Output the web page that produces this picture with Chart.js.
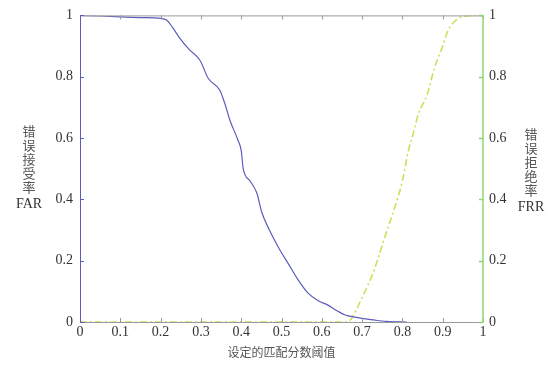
<!DOCTYPE html>
<html>
<head>
<meta charset="utf-8">
<script src="https://cdn.jsdelivr.net/npm/chart.js@4"></script>
<style>
  body { margin: 0; background: #fff; }
  #wrap { position: relative; width: 555px; height: 366px; }
  .ytitle { position: absolute; font-family: "Noto Sans CJK SC", sans-serif; font-size: 13px; line-height: 14px; color: #555; text-align: center; width: 40px; }
  .ytitle b { font-family: "Liberation Serif", serif; font-size: 14px; font-weight: normal; color: #333; display: block; margin-top: 3px; }
</style>
</head>
<body>
<div id="wrap">
  <canvas id="myChart" width="555" height="366"></canvas>
  <div class="ytitle" style="left:9px; top:124px;">错<br>误<br>接<br>受<br>率<b>FAR</b></div>
  <div class="ytitle" style="left:511px; top:127px;">错<br>误<br>拒<br>绝<br>率<b>FRR</b></div>
</div>
<script>
// threshold values and the two error rates
const farX = [0, 0.05, 0.1, 0.15, 0.2, 0.215, 0.23, 0.248, 0.27, 0.298, 0.318, 0.347, 0.36, 0.372, 0.392, 0.4, 0.405,
    0.422, 0.439, 0.451, 0.47, 0.496, 0.516, 0.54, 0.566, 0.59, 0.615, 0.64, 0.658, 0.682, 0.7, 0.732, 0.76, 0.811];
const farY = [1, 0.998, 0.995, 0.993, 0.99, 0.985, 0.96, 0.925, 0.89, 0.853, 0.795, 0.756, 0.71, 0.658, 0.593, 0.56, 0.5,
    0.46, 0.42, 0.358, 0.3, 0.235, 0.192, 0.14, 0.094, 0.07, 0.055, 0.035, 0.023, 0.016, 0.012, 0.006, 0.002, 0];

const frrX = [0, 0.2, 0.4, 0.6, 0.66, 0.67, 0.7, 0.73, 0.757, 0.78, 0.8, 0.815, 0.826, 0.84, 0.861, 0.88, 0.9, 0.913, 0.938, 0.96, 0.99, 1];
const frrY = [0, 0, 0, 0, 0, 0.005, 0.08, 0.17, 0.28, 0.37, 0.46, 0.56, 0.61, 0.68, 0.74, 0.83, 0.9, 0.95, 0.99, 0.998, 1, 1];

const xTickLabels = ['0', '0.1', '0.2', '0.3', '0.4', '0.5', '0.6', '0.7', '0.8', '0.9', '1'];
const yTickLabels = ['0', '0.2', '0.4', '0.6', '0.8', '1'];

const blue = 'rgb(92, 92, 190)';
const green = 'rgb(195, 228, 90)';

function pts(xs, ys) {
    return xs.map((x, i) => ({ x: x, y: ys[i] }));
}

// matlab style frame with inward ticks
const framePlugin = {
    id: 'frame',
    afterDatasetsDraw(chart) {
        const { ctx, chartArea: a, scales } = chart;
        ctx.save();
        ctx.lineWidth = 1;
        ctx.strokeStyle = '#999';
        ctx.beginPath();
        ctx.moveTo(a.left, a.top + 0.5); ctx.lineTo(a.right, a.top + 0.5);
        ctx.moveTo(a.left, a.bottom + 0.5); ctx.lineTo(a.right, a.bottom + 0.5);
        scales.x.ticks.forEach(t => {
            const px = Math.round(scales.x.getPixelForValue(t.value)) + 0.5;
            ctx.moveTo(px, a.bottom); ctx.lineTo(px, a.bottom - 4);
            ctx.moveTo(px, a.top); ctx.lineTo(px, a.top + 4);
        });
        ctx.stroke();

        ctx.strokeStyle = blue;
        ctx.beginPath();
        ctx.moveTo(a.left + 0.5, a.top); ctx.lineTo(a.left + 0.5, a.bottom + 1);
        scales.y.ticks.forEach(t => {
            const py = Math.round(scales.y.getPixelForValue(t.value)) + 0.5;
            ctx.moveTo(a.left, py); ctx.lineTo(a.left + 4, py);
        });
        ctx.stroke();

        ctx.strokeStyle = 'rgb(140, 215, 110)';
        ctx.lineWidth = 1.5;
        ctx.beginPath();
        ctx.moveTo(a.right, a.top); ctx.lineTo(a.right, a.bottom + 1);
        scales.y1.ticks.forEach(t => {
            const py = Math.round(scales.y1.getPixelForValue(t.value)) + 0.5;
            ctx.moveTo(a.right, py); ctx.lineTo(a.right - 4, py);
        });
        ctx.stroke();
        ctx.restore();
    }
};

const tickFont = { family: '"Liberation Serif", serif', size: 14 };

document.addEventListener('DOMContentLoaded', function() {
    const ctx = document.getElementById('myChart').getContext('2d');
    new Chart(ctx, {
        type: 'scatter',
        data: {
            datasets: [{
                label: 'FAR',
                data: pts(farX, farY),
                showLine: true,
                borderColor: blue,
                borderWidth: 1.2,
                pointRadius: 0,
                cubicInterpolationMode: 'monotone',
                yAxisID: 'y'
            }, {
                label: 'FRR',
                data: pts(frrX, frrY),
                showLine: true,
                borderColor: green,
                borderWidth: 1.6,
                borderDash: [7, 3, 2, 3],
                pointRadius: 0,
                cubicInterpolationMode: 'monotone',
                yAxisID: 'y1'
            }]
        },
        options: {
            responsive: false,
            animation: false,
            layout: { padding: { top: 15, left: 0, right: 0, bottom: 0 } },
            plugins: {
                legend: { display: false },
                tooltip: { enabled: false }
            },
            scales: {
                x: {
                    type: 'linear',
                    min: 0, max: 1,
                    afterFit: s => { s.height = 44; },
                    afterBuildTicks: s => { s.ticks = xTickLabels.map(v => ({ value: Number(v) })); },
                    ticks: {
                        padding: 2,
                        color: '#333',
                        font: tickFont,
                        maxRotation: 0,
                        callback: (v, i) => xTickLabels[i]
                    },
                    grid: { display: false, drawTicks: false },
                    border: { display: false },
                    title: {
                        display: true,
                        text: '设定的匹配分数阈值',
                        color: '#555',
                        font: { family: '"Noto Sans CJK SC", sans-serif', size: 12 },
                        padding: { top: 0, bottom: 6 }
                    }
                },
                y: {
                    position: 'left',
                    min: 0, max: 1,
                    afterFit: s => { s.width = 80; },
                    afterBuildTicks: s => { s.ticks = yTickLabels.map(v => ({ value: Number(v) })); },
                    ticks: {
                        padding: 7,
                        color: '#333',
                        font: tickFont,
                        callback: (v, i) => yTickLabels[i]
                    },
                    grid: { display: false, drawTicks: false },
                    border: { display: false }
                },
                y1: {
                    position: 'right',
                    min: 0, max: 1,
                    afterFit: s => { s.width = 72; },
                    afterBuildTicks: s => { s.ticks = yTickLabels.map(v => ({ value: Number(v) })); },
                    ticks: {
                        padding: 6,
                        color: '#333',
                        font: tickFont,
                        callback: (v, i) => yTickLabels[i]
                    },
                    grid: { display: false, drawTicks: false },
                    border: { display: false }
                }
            }
        },
        plugins: [framePlugin]
    });
});
</script>
</body>
</html>
